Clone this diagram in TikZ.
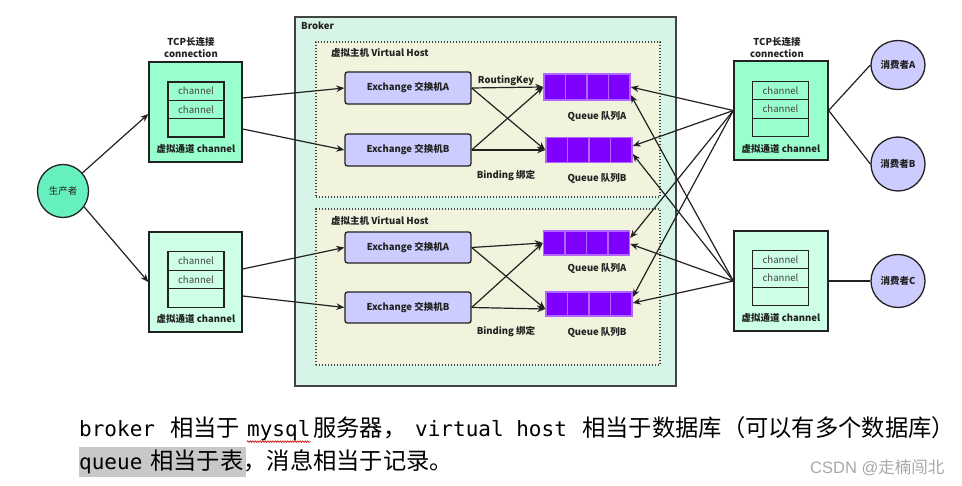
\documentclass[tikz,border=0pt]{standalone}
\usepackage{fontspec}
\setmainfont{Noto Sans CJK SC}
\setmonofont{DejaVu Sans Mono}
\newfontfamily\wmfont{Liberation Sans}
\usetikzlibrary{arrows.meta,calc,shapes.geometric,decorations.pathmorphing}
\definecolor{brokerfill}{HTML}{D6F5E6}
\definecolor{vhfill}{HTML}{F1F3DD}
\definecolor{connA}{HTML}{99FFCC}
\definecolor{connB}{HTML}{CCFFE6}
\definecolor{prodfill}{HTML}{66F0BE}
\definecolor{exfill}{HTML}{CCCCFF}
\definecolor{qfill}{HTML}{7F00FF}
\definecolor{qedge}{HTML}{B366FF}
\definecolor{ink}{HTML}{222222}
\definecolor{hl}{HTML}{C8C8C8}
\definecolor{wm}{HTML}{A8A8A8}
\tikzset{
  lbl/.style={font=\fontsize{9.5}{11}\selectfont\bfseries, text=ink, inner sep=0},
  conn/.style={draw=ink, line width=1.3pt, minimum width=93pt, minimum height=100pt, inner sep=0},
  chrow/.style={draw=ink, line width=1.3pt, minimum width=56pt, minimum height=18.5pt, inner sep=0, font=\fontsize{9.6}{10}\selectfont, text=ink!85},
  exbox/.style={draw=ink, line width=1.3pt, fill=exfill, rounded corners=2.5pt, minimum width=126pt, minimum height=32pt, inner sep=0, font=\fontsize{9.5}{11}\selectfont\bfseries, text=ink},
  qbox/.style={draw=qedge, line width=1.5pt, fill=qfill, minimum width=86pt, minimum height=25pt, inner sep=0,
    path picture={\foreach \f in {0.25,0.5,0.75}{\draw[qedge,line width=1.5pt] ($(path picture bounding box.north west)!\f!(path picture bounding box.north east)$) -- ($(path picture bounding box.south west)!\f!(path picture bounding box.south east)$);}}},
  vhbox/.style={draw=ink!85, line width=1.2pt, dash pattern=on 1.4pt off 1.6pt, fill=vhfill, minimum width=344pt, inner sep=0},
  person/.style={ellipse, draw=ink, line width=1.3pt, inner sep=0, font=\fontsize{9.5}{11}\selectfont\bfseries, text=ink},
  arr/.style={draw=ink, line width=1.2pt, -{Stealth[length=8pt,width=6.5pt]}},
  plain/.style={draw=ink, line width=1.2pt},
  monot/.style={font=\fontsize{21}{24}\selectfont\ttfamily, anchor=base west, inner sep=0, text=black},
  cjkt/.style={font=\fontsize{23.3}{26}\selectfont, anchor=base west, inner sep=0, text=black},
}
\begin{document}
\begin{tikzpicture}[x=1pt,y=-1pt]
\useasboundingbox[fill=white] (0,0) rectangle (962,486);

% Broker
\node[draw=ink!85, line width=1.5pt, fill=brokerfill, minimum width=381pt, minimum height=369pt, inner sep=0] (broker) at (485.5,201.5) {};
\node[lbl, anchor=west] (brokerlbl) at (301,26) {Broker};

% Virtual hosts
\node[vhbox, minimum height=155pt] (vh1) at (488,119.5) {};
\node[vhbox, minimum height=156pt] (vh2) at (488,287) {};
\node[lbl, anchor=west] (vh1lbl) at (331,53) {虚拟主机 Virtual Host};
\node[lbl, anchor=west] (vh2lbl) at (331,221) {虚拟主机 Virtual Host};

% Exchanges
\node[exbox] (exA1) at (408,88) {Exchange 交换机A};
\node[exbox] (exB1) at (408,150) {Exchange 交换机B};
\node[exbox, minimum height=31pt] (exA2) at (408,247.5) {Exchange 交换机A};
\node[exbox, minimum height=31pt] (exB2) at (408,307.5) {Exchange 交换机B};

% Queues
\node[qbox, minimum height=26pt] (qA1) at (587,87) {};
\node[qbox] (qB1) at (589,150) {};
\node[qbox, minimum height=24pt] (qA2) at (586.5,243) {};
\node[qbox, minimum height=24pt] (qB2) at (589,304) {};

\node[lbl] (rk) at (506,81) {RoutingKey};
\node[lbl] (qA1lbl) at (597,116) {Queue 队列A};
\node[lbl] (bd1) at (506,176) {Binding 绑定};
\node[lbl] (qB1lbl) at (597,178) {Queue 队列B};
\node[lbl] (qA2lbl) at (597,268) {Queue 队列A};
\node[lbl] (bd2) at (506,332) {Binding 绑定};
\node[lbl] (qB2lbl) at (597,332) {Queue 队列B};

% bindings
\draw[arr] (exA1.east) -- (qA1.west);
\draw[arr] (exA1.east) -- (qB1.west);
\draw[arr] (exB1.east) -- (qA1.west);
\draw[arr] (exB1.east) -- (qB1.west);
\draw[arr] (exA2.east) -- (qA2.west);
\draw[arr] (exA2.east) -- ($(qB2.west)+(0,5)$);
\draw[arr] (exB2.east) -- (qA2.west);
\draw[arr] (exB2.east) -- ($(qB2.west)+(0,5)$);

% Left connections
\node[lbl, align=center] (tcpL) at (191,47) {TCP长连接\\[1pt]connection};
\node[conn, fill=connA] (c1) at (195.5,112) {};
\node[conn, fill=connB] (c2) at (195.5,282) {};
\node[chrow, fill=connA] (c1r1) at (196,91.2) {channel};
\node[chrow, fill=connA] (c1r2) at (196,109.5) {channel};
\node[chrow, fill=connA] (c1r3) at (196,127.8) {};
\node[chrow, fill=connB] (c2r1) at (196,261) {channel};
\node[chrow, fill=connB] (c2r2) at (196,279.5) {channel};
\node[chrow, fill=connB] (c2r3) at (196,298) {};
\node[lbl] (c1lbl) at (196,149) {虚拟通道 channel};
\node[lbl] (c2lbl) at (196,319) {虚拟通道 channel};

% Right connections
\node[lbl, align=center] (tcpR) at (777,47) {TCP长连接\\[1pt]connection};
\node[conn, fill=connA, minimum width=94pt, minimum height=99pt] (c3) at (781,110.5) {};
\node[conn, fill=connB, minimum width=94pt] (c4) at (781,281) {};
\node[chrow, fill=connA] (c3r1) at (780.5,90.5) {channel};
\node[chrow, fill=connA] (c3r2) at (780.5,109) {channel};
\node[chrow, fill=connA] (c3r3) at (780.5,127.5) {};
\node[chrow, fill=connB] (c4r1) at (780.5,259.5) {channel};
\node[chrow, fill=connB] (c4r2) at (780.5,278) {channel};
\node[chrow, fill=connB] (c4r3) at (780.5,296.5) {};
\node[lbl] (c3lbl) at (781,149) {虚拟通道 channel};
\node[lbl] (c4lbl) at (781,318) {虚拟通道 channel};

% Producer
\node[person, fill=prodfill, minimum width=51pt, minimum height=53pt, font=\fontsize{9.5}{11}\selectfont] (prod) at (63,191) {生产者};
\draw[arr] (prod.43) -- ($(c1.west)+(0,2)$);
\draw[arr] (prod.-37) -- (c2.west);

% connections to exchanges
\draw[arr] ($(c1.east)+(0,-14)$) -- (exA1.west);
\draw[arr] ($(c1.east)+(0,17)$) -- (exB1.west);
\draw[arr] ($(c2.east)+(0,-13)$) -- (exA2.west);
\draw[arr] ($(c2.east)+(0,14)$) -- (exB2.west);

% consumers' connections to queues
\draw[arr] (c3.west) -- (qA1.east);
\draw[arr] (c3.west) -- ($(qB1.east)+(0,-4)$);
\draw[arr] (c3.west) -- ($(qA2.east)+(0,-5)$);
\draw[arr] (c3.west) -- ($(qB2.east)+(0,-7)$);
\draw[arr] (c4.west) -- ($(qA1.east)+(0,8)$);
\draw[arr] (c4.west) -- ($(qB1.east)+(0,4)$);
\draw[arr] (c4.west) -- ($(qA2.east)+(0,1)$);
\draw[arr] (c4.west) -- ($(qB2.east)+(0,-1)$);

% Consumers
\node[person, fill=exfill, minimum width=54pt, minimum height=49pt] (consA) at (898,65) {消费者A};
\node[person, fill=exfill, minimum width=54pt, minimum height=54pt] (consB) at (898,164) {消费者B};
\node[person, fill=exfill, minimum width=54pt, minimum height=53pt] (consC) at (898,281) {消费者C};
\draw[plain] (c3.east) -- (consA.west);
\draw[plain] (c3.east) -- (consB.west);
\draw[plain] (c4.east) -- (consC.west);

% Bottom text
\fill[hl] (79,447) rectangle (246,477);
\node[monot] (t1) at (79,437) {broker};
\node[cjkt] (t2) at (170,437) {相当于};
\node[monot] (t3) at (247,437) {mysql};
\node[cjkt] (t4) at (313,437) {服务器，};
\node[monot] (t5) at (415,437) {virtual host};
\node[cjkt] (t6) at (582,437) {相当于数据库（可以有多个数据库）};
\draw[red!80!black, line width=0.6pt, decorate, decoration={snake, amplitude=0.8pt, segment length=2.5pt}] (t3.south west) -- (t3.south east);
\node[monot] (u1) at (79,469.5) {queue};
\node[cjkt] (u2) at (150,469.5) {相当于表，消息相当于记录。};
\node[anchor=base west, inner sep=0, text=wm, font=\fontsize{16.5}{18}\selectfont] (wmk) at (810,473) {{\wmfont CSDN @}走楠闯北};
\end{tikzpicture}
\end{document}
